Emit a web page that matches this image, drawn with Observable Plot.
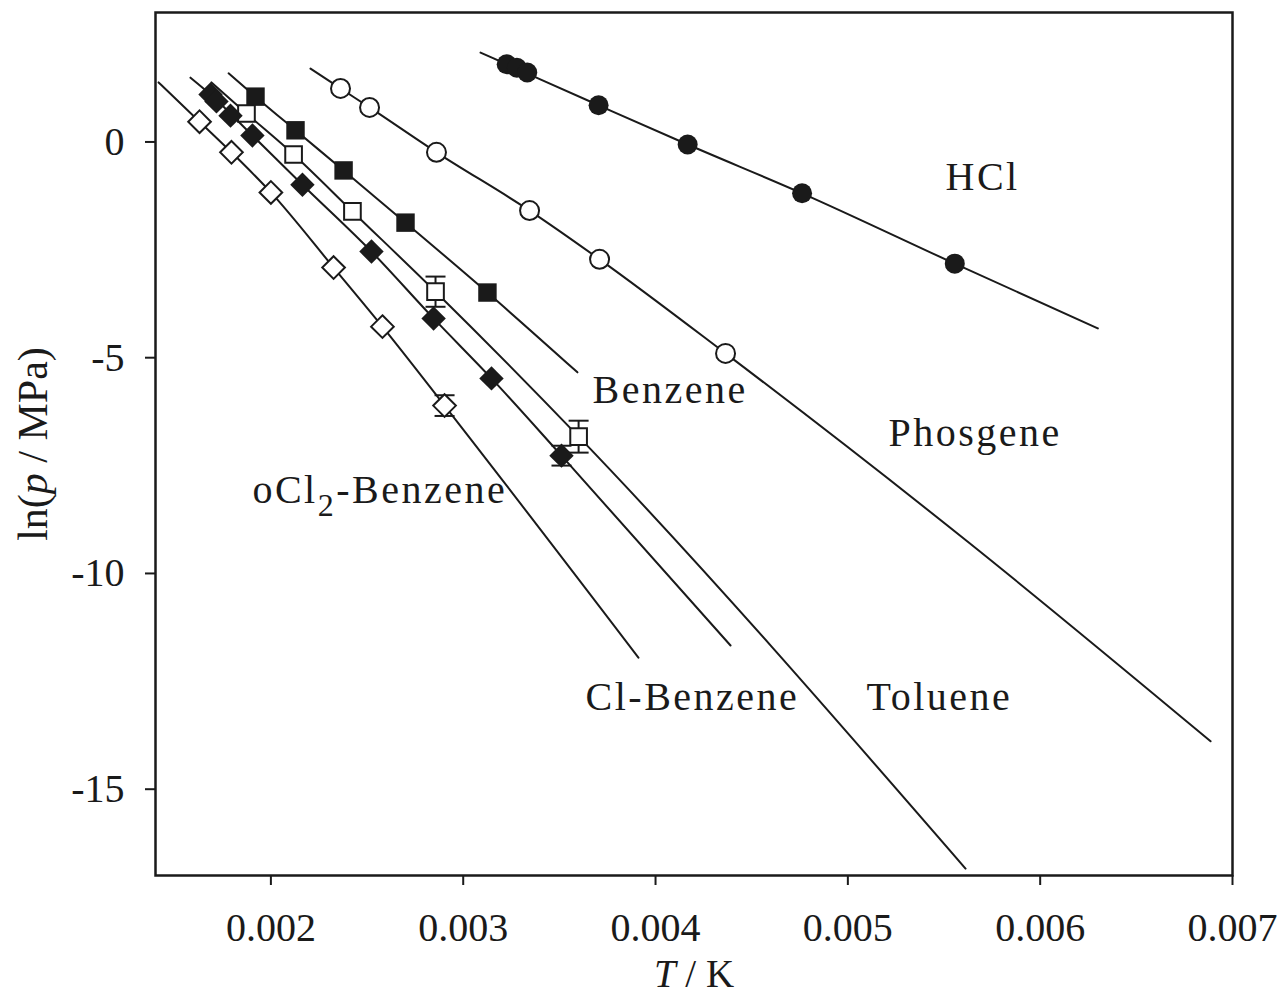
<!DOCTYPE html>
<html><head><meta charset="utf-8">
<script src="https://cdn.jsdelivr.net/npm/d3@7"></script>
<script src="https://cdn.jsdelivr.net/npm/@observablehq/plot@0.6"></script>
<style>
body{margin:0;background:#fff;}
#chart svg{display:block}
</style></head><body><div id="chart"></div>
<script>
// ---- measured points (x = 1/T, y = ln(p/MPa)) ----
const hclX = [0.003226, 0.003279, 0.003333, 0.003704, 0.004167, 0.004762, 0.005556];
const hclY = [1.80, 1.72, 1.61, 0.85, -0.06, -1.19, -2.82];
const phosgeneX = [0.002362, 0.002513, 0.002861, 0.003345, 0.003709, 0.004364];
const phosgeneY = [1.24, 0.80, -0.24, -1.59, -2.72, -4.90];
const benzeneX = [0.00192, 0.002128, 0.002378, 0.0027, 0.003126];
const benzeneY = [1.05, 0.27, -0.66, -1.87, -3.49];
const tolueneX = [0.001873, 0.002118, 0.002424, 0.002856, 0.0036];
const tolueneY = [0.66, -0.29, -1.61, -3.47, -6.83];
const tolueneErr = [0, 0, 0, 0.35, 0.37];
const clBenzeneX = [0.001686, 0.001717, 0.00179, 0.001904, 0.002164, 0.002523, 0.002846, 0.003147, 0.003511];
const clBenzeneY = [1.10, 0.94, 0.61, 0.15, -0.99, -2.54, -4.09, -5.48, -7.27];
const clBenzeneErr = [0, 0, 0, 0, 0, 0, 0, 0, 0.23];
const ocl2X = [0.001629, 0.001795, 0.002, 0.002326, 0.00258, 0.002903];
const ocl2Y = [0.47, -0.24, -1.17, -2.91, -4.28, -6.11];
const ocl2Err = [0, 0, 0, 0, 0, 0.24];

// ---- correlation curves ----
const hclCurveX = [0.00309, 0.003226, 0.003704, 0.004167, 0.004762, 0.005556, 0.00630];
const hclCurveY = [2.07, 1.80, 0.85, -0.06, -1.19, -2.82, -4.32];
const phosgeneCurveX = [0.002206, 0.002362, 0.002513, 0.002861, 0.003345, 0.003709, 0.004364, 0.005622, 0.006886];
const phosgeneCurveY = [1.70, 1.24, 0.80, -0.24, -1.59, -2.72, -4.90, -9.26, -13.89];
const benzeneCurveX = [0.00178, 0.00192, 0.002128, 0.002378, 0.0027, 0.003126, 0.003594];
const benzeneCurveY = [1.59, 1.05, 0.27, -0.66, -1.87, -3.49, -5.34];
const tolueneCurveX = [0.001691, 0.001873, 0.002118, 0.002424, 0.002856, 0.0036, 0.005612];
const tolueneCurveY = [1.38, 0.66, -0.29, -1.61, -3.47, -6.83, -16.84];
const clBenzeneCurveX = [0.001582, 0.001686, 0.001904, 0.002164, 0.002523, 0.002846, 0.003147, 0.003511, 0.00439];
const clBenzeneCurveY = [1.49, 1.10, 0.15, -0.99, -2.54, -4.09, -5.48, -7.27, -11.67];
const ocl2CurveX = [0.001416, 0.001629, 0.001795, 0.002, 0.002326, 0.00258, 0.002903, 0.003911];
const ocl2CurveY = [1.38, 0.47, -0.24, -1.17, -2.91, -4.28, -6.11, -11.95];

// ---- labels ----
const labelNames = ["HCl", "Benzene", "Phosgene", "oCl2-Benzene", "Cl-Benzene", "Toluene"];
const labelX = [0.005508, 0.003672, 0.005211, 0.001904, 0.003636, 0.005097];
const labelY = [-1.125, -6.06, -7.035, -8.356, -13.153, -13.153];

const xTicks = [0.002, 0.003, 0.004, 0.005, 0.006, 0.007];
const yTicks = [0, -5, -10, -15];
const xTitle = "T / K";
const yTitle = "ln(p / MPa)";

// ---- build tables ----
const pts = (name, xs, ys, errs) => xs.map((x, i) => ({name, x, y: ys[i], err: errs ? errs[i] : 0}));
const curve = (name, xs, ys) => xs.map((x, i) => ({name, x, y: ys[i]}));
const pHCl = pts("HCl", hclX, hclY);
const pPhos = pts("Phosgene", phosgeneX, phosgeneY);
const pBenz = pts("Benzene", benzeneX, benzeneY);
const pTol = pts("Toluene", tolueneX, tolueneY, tolueneErr);
const pCl = pts("Cl-Benzene", clBenzeneX, clBenzeneY, clBenzeneErr);
const pO = pts("oCl2-Benzene", ocl2X, ocl2Y, ocl2Err);
const curves = [
  ...curve("HCl", hclCurveX, hclCurveY),
  ...curve("Phosgene", phosgeneCurveX, phosgeneCurveY),
  ...curve("Benzene", benzeneCurveX, benzeneCurveY),
  ...curve("Toluene", tolueneCurveX, tolueneCurveY),
  ...curve("Cl-Benzene", clBenzeneCurveX, clBenzeneCurveY),
  ...curve("oCl2-Benzene", ocl2CurveX, ocl2CurveY)
];
const errRows = [...pTol, ...pCl, ...pO].filter(d => d.err > 0);
const capRows = errRows.flatMap(d => [{x: d.x, y: d.y + d.err}, {x: d.x, y: d.y - d.err}]);
const labels = labelNames.map((t, i) => ({t, x: labelX[i], y: labelY[i]}));

const ink = "#1a1a1a";
const capSymbol = {draw(ctx) { ctx.moveTo(-10, 0); ctx.lineTo(10, 0); }};

const chart = Plot.plot({
  width: 1285, height: 997,
  marginLeft: 155, marginRight: 53, marginTop: 12, marginBottom: 122,
  style: {fontFamily: "'Liberation Serif', 'Times New Roman', serif", fontSize: "40px", color: ink, background: "#fff"},
  x: {domain: [0.0014, 0.007]},
  y: {domain: [-17, 3]},
  marks: [
    Plot.line(curves, {x: "x", y: "y", z: "name", stroke: ink, strokeWidth: 2, curve: "monotone-x"}),
    Plot.ruleX(errRows, {x: "x", y1: d => d.y - d.err, y2: d => d.y + d.err, stroke: ink, strokeWidth: 2}),
    Plot.dot(capRows, {x: "x", y: "y", symbol: capSymbol, r: 5, stroke: ink, strokeWidth: 2, fill: "none"}),
    Plot.dot(pHCl, {x: "x", y: "y", symbol: "circle", r: 10, fill: ink}),
    Plot.dot(pPhos, {x: "x", y: "y", symbol: "circle", r: 9.5, fill: "#fff", stroke: ink, strokeWidth: 2}),
    Plot.dot(pBenz, {x: "x", y: "y", symbol: "square", r: 10.4, fill: ink}),
    Plot.dot(pTol, {x: "x", y: "y", symbol: "square", r: 9.4, fill: "#fff", stroke: ink, strokeWidth: 2}),
    Plot.dot(pCl, {x: "x", y: "y", symbol: "diamond2", r: 11, fill: ink}),
    Plot.dot(pO, {x: "x", y: "y", symbol: "diamond2", r: 10.2, fill: "#fff", stroke: ink, strokeWidth: 2}),
    Plot.text(labels, {x: "x", y: "y", text: "t", textAnchor: "start", lineAnchor: "bottom", fontSize: 40, fill: ink}),
    Plot.frame({stroke: ink, strokeWidth: 2.5}),
    Plot.axisX({ticks: xTicks, tickFormat: d => d.toFixed(3), tickSize: 10, tickPadding: 27, strokeWidth: 2, label: null, fontSize: 40}),
    Plot.axisY({ticks: yTicks, tickFormat: d => String(d), tickSize: 10, tickPadding: 21, strokeWidth: 2, label: null, fontSize: 40}),
    Plot.text([xTitle], {frameAnchor: "bottom", dy: 111, textAnchor: "middle", lineAnchor: "bottom", fontSize: 39, fill: ink}),
    Plot.text([yTitle], {frameAnchor: "left", dx: -122, rotate: -90, textAnchor: "middle", lineAnchor: "middle", fontSize: 42, fill: ink})
  ]
});
document.getElementById("chart").appendChild(chart);

// typographic touches: italics, subscript, letter spacing
chart.querySelectorAll("text").forEach(el => {
  const s = el.textContent;
  if (s === xTitle) el.innerHTML = '<tspan font-style="italic">T</tspan> / K';
  else if (s === yTitle) el.innerHTML = 'ln(<tspan font-style="italic">p</tspan> / MPa)';
  else if (s === "oCl2-Benzene") {
    el.innerHTML = 'oCl<tspan dy="13" font-size="32">2</tspan><tspan dy="-13">-Benzene</tspan>';
    el.style.letterSpacing = "2.5px";
  } else if (labelNames.includes(s)) el.style.letterSpacing = "2.5px";
});
</script></body></html>
